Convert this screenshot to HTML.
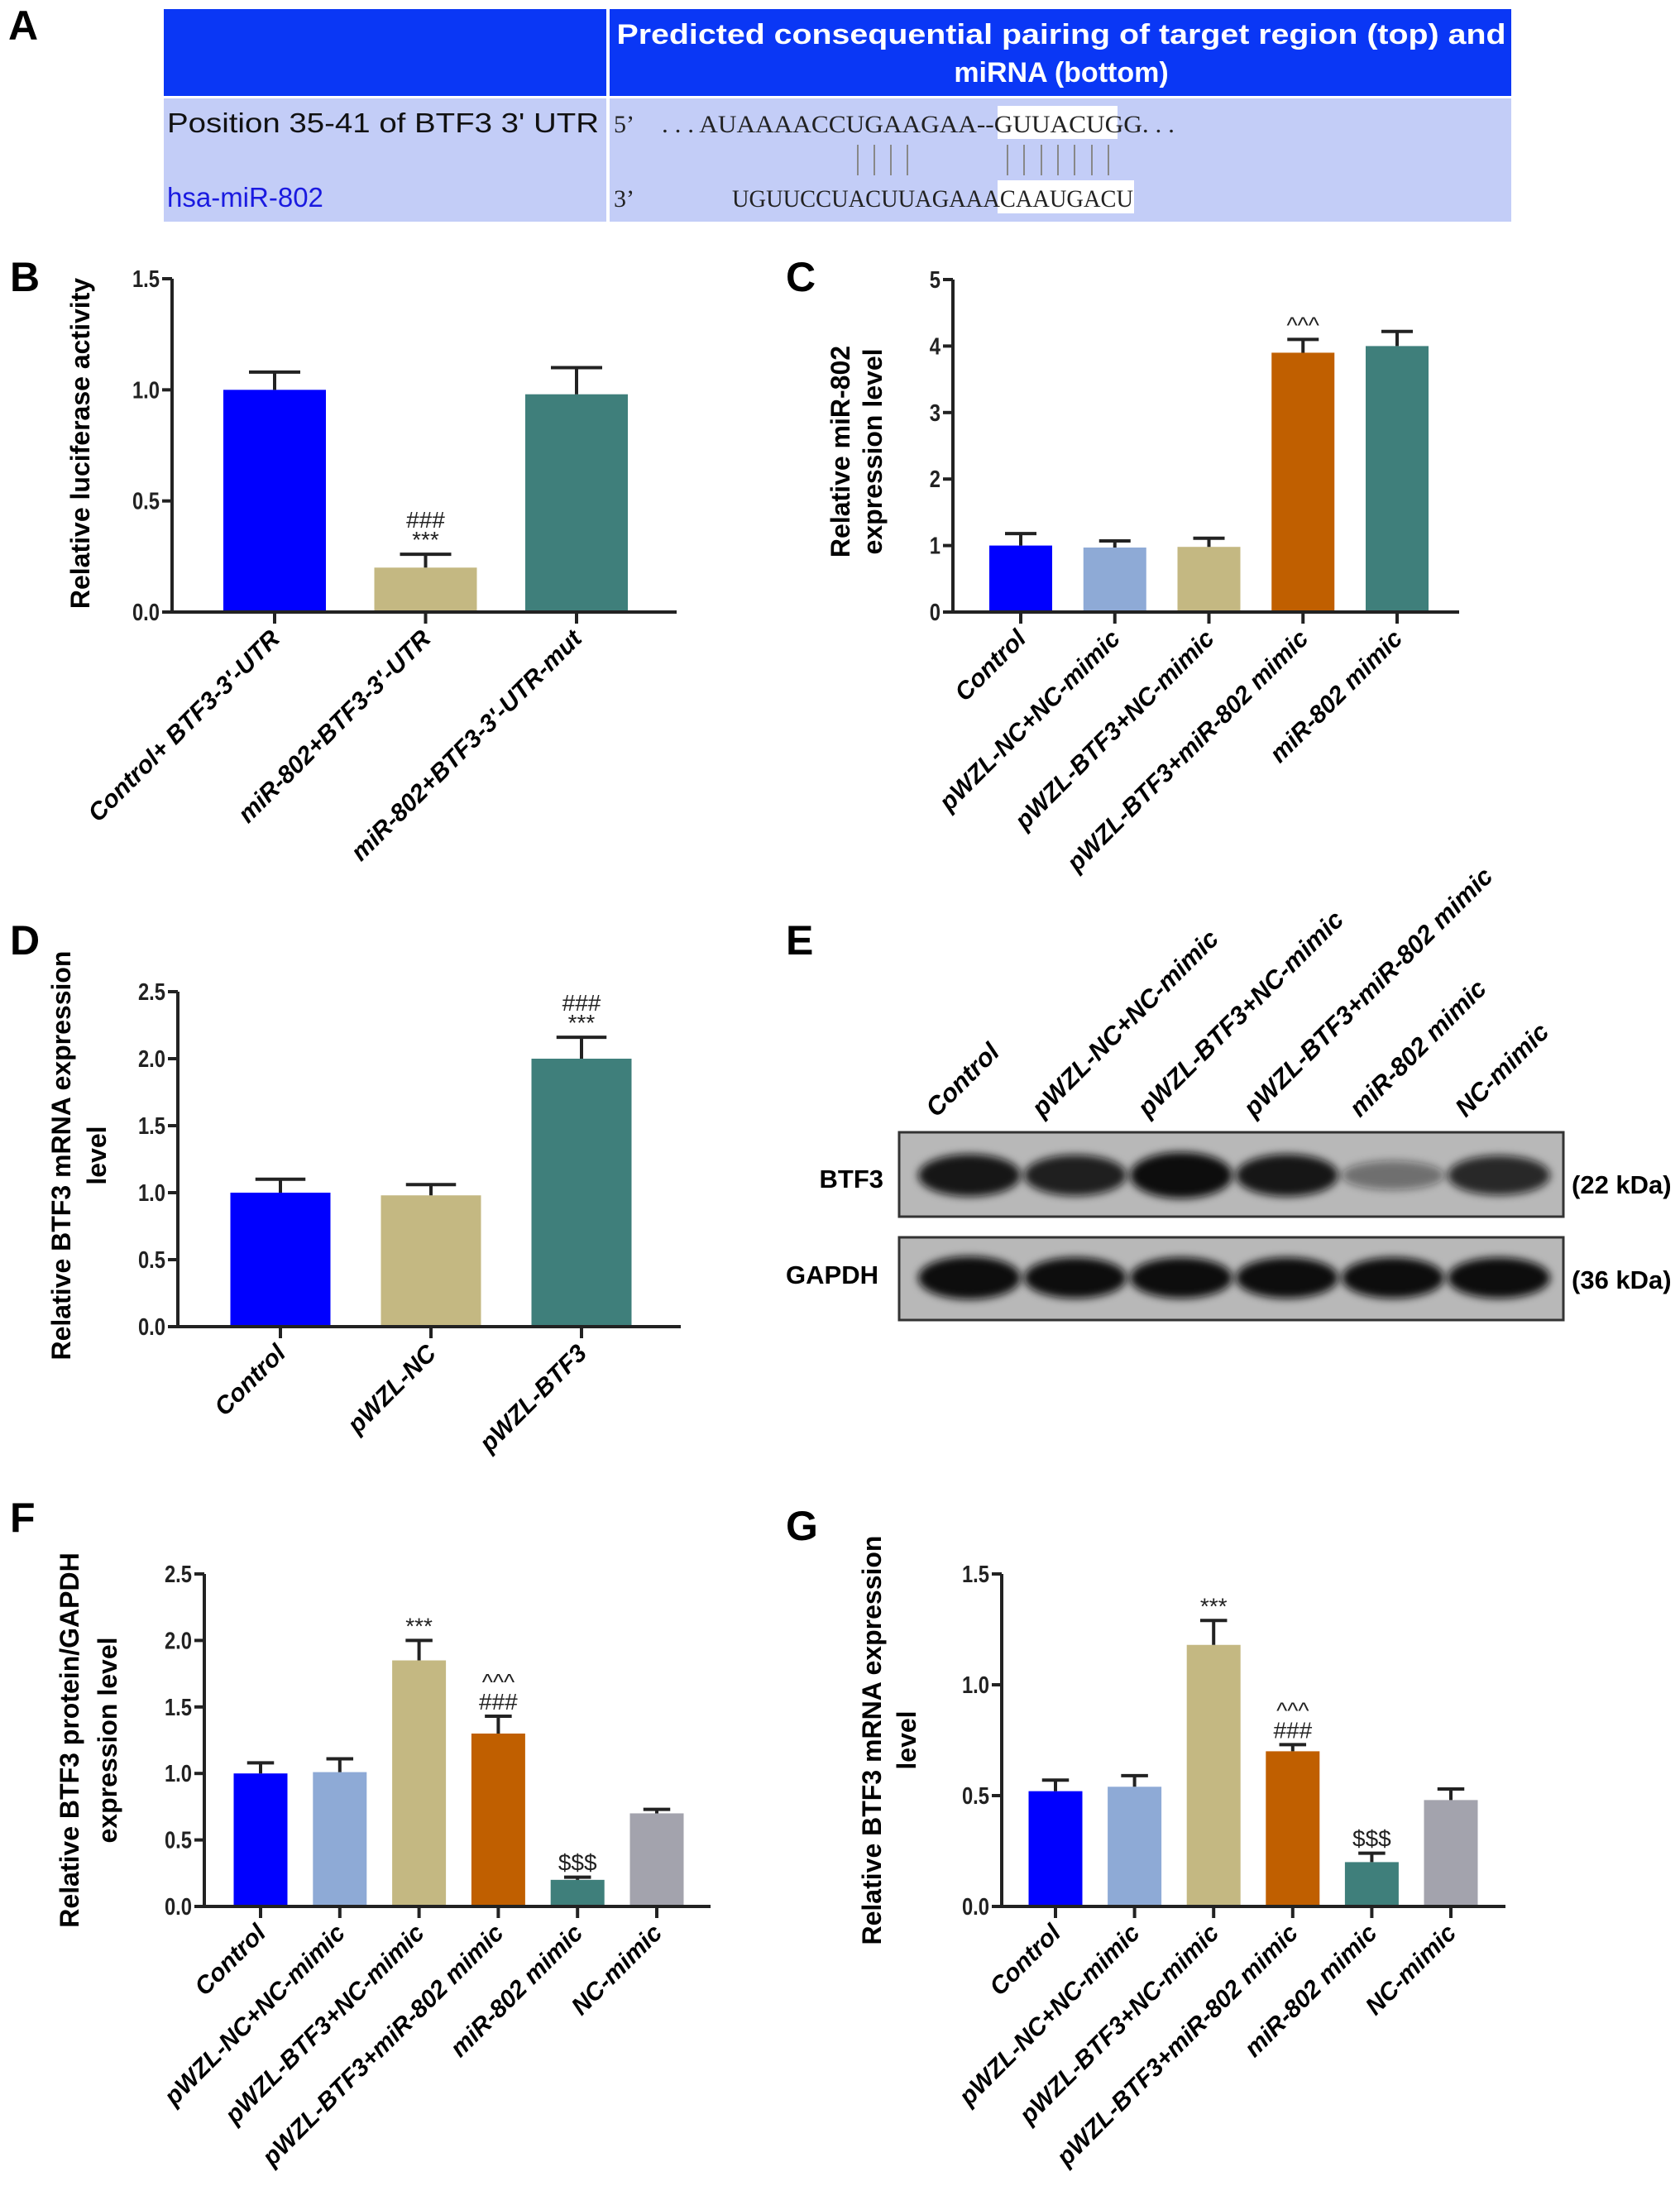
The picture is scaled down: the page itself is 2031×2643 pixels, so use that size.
<!DOCTYPE html>
<html><head><meta charset="utf-8"><style>
html,body{margin:0;padding:0;background:#fff;}
svg{display:block;font-family:"Liberation Sans",Arial,sans-serif;}
</style></head><body>
<svg id="fig" width="2031" height="2643" viewBox="0 0 2031 2643" xmlns="http://www.w3.org/2000/svg">
<defs>
<filter id="blur" x="-20%" y="-50%" width="140%" height="200%"><feGaussianBlur stdDeviation="5"/></filter>
</defs>
<!-- Panel A -->
<g>
<text x="10" y="48" font-size="50" font-weight="bold">A</text>
<rect x="198" y="11" width="1629" height="105" fill="#0a37f5"/>
<rect x="198" y="119" width="1629" height="149" fill="#c3cdf7"/>
<rect x="733" y="11" width="4" height="257" fill="#fff"/>
<text x="1283" y="53" font-size="34" font-weight="bold" fill="#fff" text-anchor="middle" textLength="1075" lengthAdjust="spacingAndGlyphs">Predicted consequential pairing of target region (top) and</text>
<text x="1283" y="99" font-size="34" font-weight="bold" fill="#fff" text-anchor="middle">miRNA (bottom)</text>
<text x="202" y="160" font-size="33" fill="#111" textLength="522" lengthAdjust="spacingAndGlyphs">Position 35-41 of BTF3 3' UTR</text>
<text x="202" y="250" font-size="33" fill="#1a1ae0">hsa-miR-802</text>
<rect x="1206" y="128" width="145" height="40" fill="#fff"/>
<rect x="1206" y="218" width="165" height="40" fill="#fff"/>
<text x="742" y="160" font-size="30" font-family="Liberation Serif,serif" fill="#222">5’</text>
<text x="800" y="160" font-size="30" font-family="Liberation Serif,serif" fill="#222" textLength="620" lengthAdjust="spacingAndGlyphs">. . . AUAAAACCUGAAGAA--GUUACUGG. . .</text>
<g stroke="#888" stroke-width="2">
<line x1="1037" y1="175" x2="1037" y2="212"/><line x1="1057" y1="175" x2="1057" y2="212"/><line x1="1077" y1="175" x2="1077" y2="212"/><line x1="1097" y1="175" x2="1097" y2="212"/>
<line x1="1218" y1="175" x2="1218" y2="212"/><line x1="1238" y1="175" x2="1238" y2="212"/><line x1="1259" y1="175" x2="1259" y2="212"/><line x1="1279" y1="175" x2="1279" y2="212"/><line x1="1299" y1="175" x2="1299" y2="212"/><line x1="1320" y1="175" x2="1320" y2="212"/><line x1="1340" y1="175" x2="1340" y2="212"/>
</g>
<text x="742" y="250" font-size="30" font-family="Liberation Serif,serif" fill="#222">3’</text>
<text x="885" y="250" font-size="30" font-family="Liberation Serif,serif" fill="#222" textLength="485" lengthAdjust="spacingAndGlyphs">UGUUCCUACUUAGAAACAAUGACU</text>
</g>
<!-- Panel E blot -->
<g>
<text x="950" y="1154" font-size="50" font-weight="bold">E</text>
<rect x="1087" y="1369" width="803" height="102" fill="#b8b8b8" stroke="#333" stroke-width="3"/>
<rect x="1087" y="1496" width="803" height="100" fill="#b8b8b8" stroke="#333" stroke-width="3"/>
<g id="bands"></g>
<text x="1068" y="1436" font-size="31" font-weight="bold" text-anchor="end">BTF3</text>
<text x="1062" y="1552" font-size="31" font-weight="bold" text-anchor="end">GAPDH</text>
<text x="1900" y="1443" font-size="31" font-weight="bold">(22 kDa)</text>
<text x="1900" y="1558" font-size="31" font-weight="bold">(36 kDa)</text>
<g id="lanes"></g>
</g>
<g id="charts"></g>
</svg>
<script>
// ---- chart data ----
const catsB = ["Control+ BTF3-3'-UTR","miR-802+BTF3-3'-UTR","miR-802+BTF3-3'-UTR-mut"];
const valsB = [1.0, 0.20, 0.98];
const errB = [0.08, 0.06, 0.12];
const annB = ["", "###\n***", ""];
const ticksB = ["0.0","0.5","1.0","1.5"];

const catsC = ["Control","pWZL-NC+NC-mimic","pWZL-BTF3+NC-mimic","pWZL-BTF3+miR-802 mimic","miR-802 mimic"];
const valsC = [1.0, 0.97, 0.98, 3.9, 4.0];
const errC = [0.18, 0.1, 0.13, 0.2, 0.22];
const annC = ["", "", "", "^^^", ""];
const ticksC = ["0","1","2","3","4","5"];

const catsD = ["Control","pWZL-NC","pWZL-BTF3"];
const valsD = [1.0, 0.98, 2.0];
const errD = [0.1, 0.08, 0.16];
const annD = ["", "", "###\n***"];
const ticksD = ["0.0","0.5","1.0","1.5","2.0","2.5"];

const catsF = ["Control","pWZL-NC+NC-mimic","pWZL-BTF3+NC-mimic","pWZL-BTF3+miR-802 mimic","miR-802 mimic","NC-mimic"];
const valsF = [1.0, 1.01, 1.85, 1.3, 0.2, 0.7];
const errF = [0.08, 0.1, 0.15, 0.13, 0.02, 0.03];
const annF = ["", "", "***", "^^^\n###", "$$$", ""];
const ticksF = ["0.0","0.5","1.0","1.5","2.0","2.5"];

const catsG = ["Control","pWZL-NC+NC-mimic","pWZL-BTF3+NC-mimic","pWZL-BTF3+miR-802 mimic","miR-802 mimic","NC-mimic"];
const valsG = [0.52, 0.54, 1.18, 0.70, 0.20, 0.48];
const errG = [0.05, 0.05, 0.11, 0.03, 0.04, 0.05];
const annG = ["", "", "***", "^^^\n###", "$$$", ""];
const ticksG = ["0.0","0.5","1.0","1.5"];

const lanesE = ["Control","pWZL-NC+NC-mimic","pWZL-BTF3+NC-mimic","pWZL-BTF3+miR-802 mimic","miR-802 mimic","NC-mimic"];
const btf3Intensity = [0.85, 0.8, 1.0, 0.85, 0.35, 0.75];
const gapdhIntensity = [1.0, 0.95, 0.95, 0.95, 0.95, 0.95];

const NS = "http://www.w3.org/2000/svg";
function mk(tag, attrs, parent){ const e=document.createElementNS(NS,tag); for(const k in attrs) e.setAttribute(k,attrs[k]); if(parent) parent.appendChild(e); return e; }

function chart(o){
  const g = mk("g",{},document.getElementById("charts"));
  
  
  const yMax = parseFloat(o.ticks[o.ticks.length-1]);
  const ys = v => o.y0 - (v/yMax)*(o.y0-o.yTop);
  const n = o.cats.length;
  const step = (o.c1 - o.c0)/(n-1);
  const xs = i => o.c0 + i*step;
  const L = mk("text",{x:o.lx,y:o.ly,"font-size":50,"font-weight":"bold"},g); L.textContent=o.letter;
  
  
  o.vals.forEach((v,i)=>{
    const x=xs(i);
    const r = mk("rect",{x:x-o.bw/2,y:ys(v),width:o.bw,height:o.y0-ys(v),fill:o.colors[i]},g);
    
    
    const top = ys(v+o.err[i]);
    const eb = mk("path",{d:`M${x} ${ys(v)}V${top}M${x-o.bw*0.25} ${top}H${x+o.bw*0.25}`,stroke:"#222","stroke-width":4,fill:"none"},g);
    
    
    if(o.ann[i]){
      const lines=o.ann[i].split("\n");
      lines.forEach((s,j)=>{
        const t=mk("text",{x:x,y:top-8-(lines.length-1-j)*24,"font-size":28,"text-anchor":"middle",fill:"#222"},g);
        t.textContent=s;
        
        
      });
    }
    const cx=x+8, cy=o.y0+34;
    const t=mk("text",{x:cx,y:cy,"font-size":30,"font-weight":"bold","font-style":"italic","text-anchor":"end",transform:`rotate(-45 ${cx} ${cy})`},g);
    t.textContent=o.cats[i];
    
    
    mk("line",{x1:x,y1:o.y0,x2:x,y2:o.y0+14,stroke:"#222","stroke-width":4},g);
  });
  const ax = mk("path",{d:`M${o.ax} ${o.yTop}V${o.y0}H${o.axEnd}`,stroke:"#222","stroke-width":4,fill:"none"},g);
  
  
  o.ticks.forEach(tk=>{
    const y=ys(parseFloat(tk));
    mk("line",{x1:o.ax-12,y1:y,x2:o.ax,y2:y,stroke:"#222","stroke-width":4},g);
    const t=mk("text",{x:o.ax-15,y:y+10,"font-size":29,"font-weight":"bold","text-anchor":"end",fill:"#222",transform:`translate(${o.ax-15} 0) scale(0.82 1) translate(${-(o.ax-15)} 0)`},g);
    t.textContent=tk;
    
    
  });
  o.title.forEach((s,j)=>{
    const tx=o.tx[j], ty=o.ty;
    const t=mk("text",{x:tx,y:ty,"font-size":32,"font-weight":"bold","text-anchor":"middle",transform:`rotate(-90 ${tx} ${ty})`},g);
    t.textContent=s;
    
    
  });
}
const BLUE="#0000ff", LB="#8eaad6", TAN="#c4b882", OR="#c05f00", TEAL="#3f7f7b", GR="#a3a3ad";
chart({name:"chart-b",letter:"B",lx:12,ly:352,cats:catsB,vals:valsB,err:errB,ann:annB,ticks:ticksB,ax:208,axEnd:818,y0:740,yTop:337,c0:332,c1:697,bw:124,colors:[BLUE,TAN,TEAL],title:["Relative luciferase activity"],tx:[108],ty:536});
chart({name:"chart-c",letter:"C",lx:950,ly:352,cats:catsC,vals:valsC,err:errC,ann:annC,ticks:ticksC,ax:1152,axEnd:1764,y0:740,yTop:338,c0:1234,c1:1689,bw:76,colors:[BLUE,LB,TAN,OR,TEAL],title:["Relative miR-802","expression level"],tx:[1027,1066],ty:546});
chart({name:"chart-d",letter:"D",lx:12,ly:1154,cats:catsD,vals:valsD,err:errD,ann:annD,ticks:ticksD,ax:215,axEnd:823,y0:1604,yTop:1199,c0:339,c1:703,bw:121,colors:[BLUE,TAN,TEAL],title:["Relative BTF3 mRNA expression","level"],tx:[85,128],ty:1397});
chart({name:"chart-f",letter:"F",lx:12,ly:1852,cats:catsF,vals:valsF,err:errF,ann:annF,ticks:ticksF,ax:247,axEnd:859,y0:2305,yTop:1903,c0:315,c1:794,bw:65,colors:[BLUE,LB,TAN,OR,TEAL,GR],title:["Relative BTF3 protein/GAPDH","expression level"],tx:[95,141],ty:2104});
chart({name:"chart-g",letter:"G",lx:950,ly:1862,cats:catsG,vals:valsG,err:errG,ann:annG,ticks:ticksG,ax:1211,axEnd:1820,y0:2305,yTop:1903,c0:1276,c1:1754,bw:65,colors:[BLUE,LB,TAN,OR,TEAL,GR],title:["Relative BTF3 mRNA expression","level"],tx:[1065,1107],ty:2104});

const bands=document.getElementById("bands"), lanes=document.getElementById("lanes");
const laneX = i => 1172 + i*128;
lanesE.forEach((s,i)=>{
  const x=laneX(i);
  const a=btf3Intensity[i];
  const e1=mk("ellipse",{cx:x,cy:1421,rx:62,ry:12+16*a,fill:"#111","fill-opacity":Math.min(1,a+0.1),filter:"url(#blur)"},bands);
  
  
  const b=gapdhIntensity[i];
  const e2=mk("ellipse",{cx:x,cy:1545,rx:62,ry:26*b,fill:"#111",filter:"url(#blur)"},bands);
  
  
  const lx=x-40, ly=1352;
  const t=mk("text",{x:lx,y:ly,"font-size":31,"font-weight":"bold","font-style":"italic",transform:`rotate(-45 ${lx} ${ly})`},lanes);
  t.textContent=s;
  
  
});
</script>
</body></html>
